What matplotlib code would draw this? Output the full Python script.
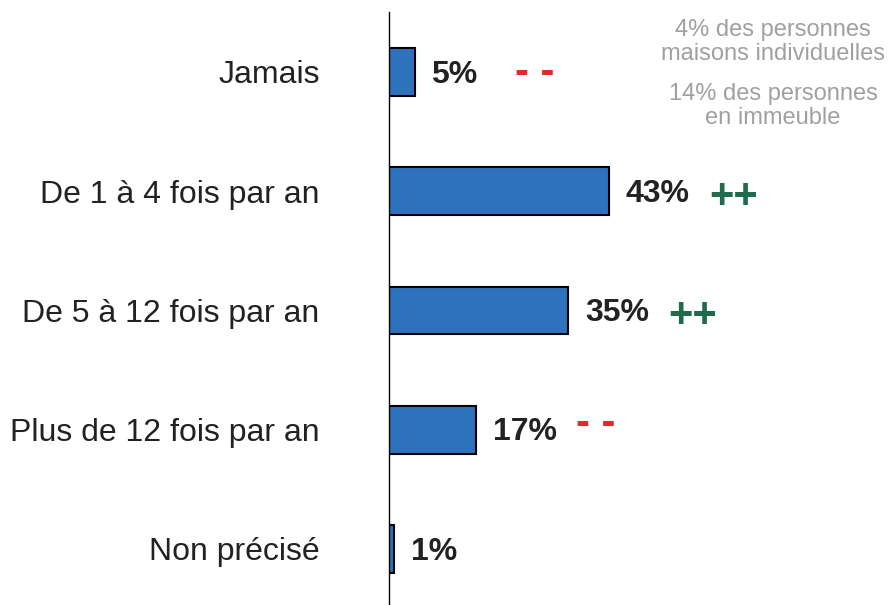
import matplotlib.pyplot as plt

categories = ["Jamais", "De 1 à 4 fois par an", "De 5 à 12 fois par an",
              "Plus de 12 fois par an", "Non précisé"]
values = [5, 43, 35, 17, 1]
signs = ["- -", "++", "++", "- -", ""]
note_lines = ["4% des personnes", "maisons individuelles",
              "14% des personnes", "en immeuble"]

plt.rcParams['font.family'] = ['Liberation Sans', 'DejaVu Sans']

fig = plt.figure(figsize=(8.9, 6.05), dpi=100)
ax = fig.add_axes([389 / 890, 0, 1 - 389 / 890, 1 - 12 / 605])

y = list(range(len(categories)))
ax.barh(y, values, height=0.4, color="#2E72BE", edgecolor="black", linewidth=1.5)
ax.set_xlim(0, 97.8)
ax.set_ylim(4.47, -0.503)

for sp in ["top", "right", "bottom"]:
    ax.spines[sp].set_visible(False)
ax.spines["left"].set_linewidth(1.0)
ax.set_xticks([])
ax.set_yticks(y)
ax.set_yticklabels(categories, fontsize=23, color="#222222")
ax.tick_params(axis="y", length=0, pad=50)

# small vertical nudges for the +/- marks (points)
sign_dy = [-1, -4, -4, 4, 0]

for i, (v, s) in enumerate(zip(values, signs)):
    ax.annotate(f"{v}%", (v, i), xytext=(12, -2), textcoords="offset points",
                ha="left", va="center", fontsize=23, fontweight="bold",
                color="#222222")
    if s:
        col = "#E8262A" if s.startswith("-") else "#1F6B4B"
        ax.annotate(s, (v, i), xytext=(72, sign_dy[i]),
                    textcoords="offset points", ha="left", va="center",
                    fontsize=30, fontweight="bold", color=col)

note_y = [30, 54, 94, 118]
for txt, py in zip(note_lines, note_y):
    fig.text(773 / 890, 1 - py / 605, txt, ha="center", va="center",
             fontsize=17, color="#A0A0A0")

fig.savefig("out.png", dpi=100)
